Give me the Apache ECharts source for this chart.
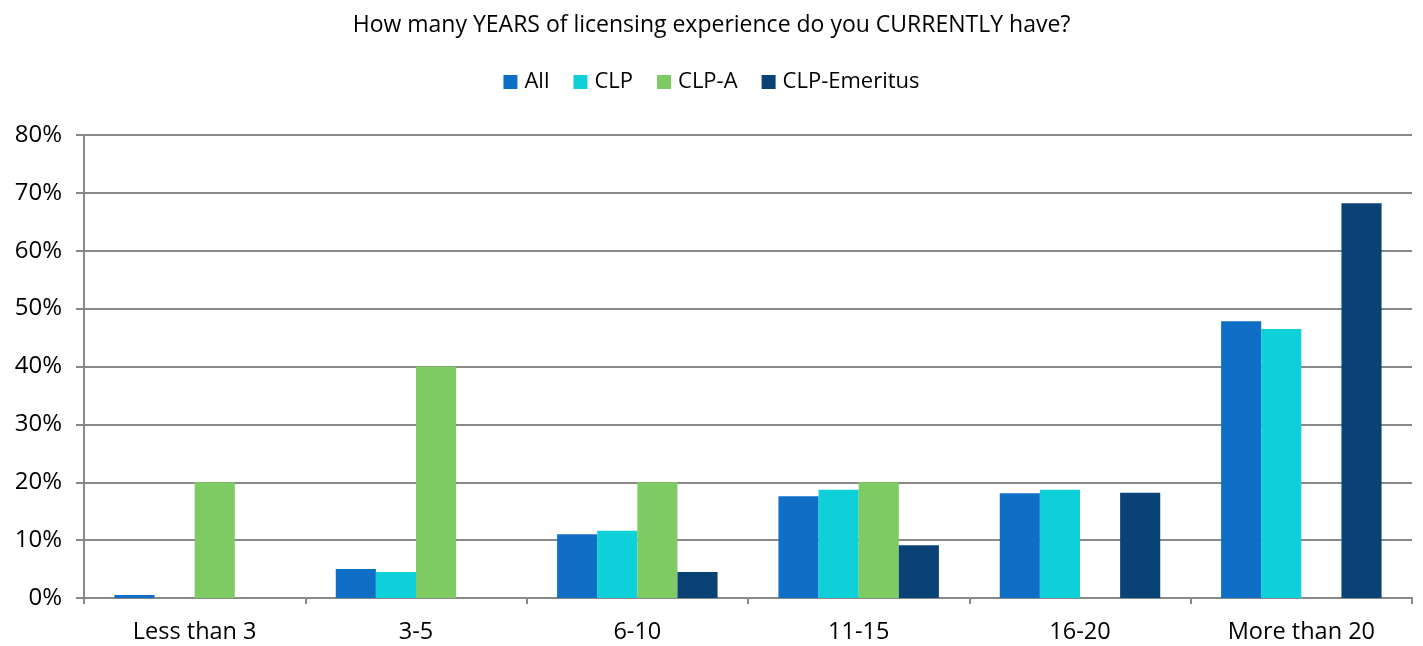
<!DOCTYPE html>
<html>
<head>
<meta charset="utf-8">
<script src="https://cdn.jsdelivr.net/npm/echarts@6/dist/echarts.min.js"></script>
<style>
  html, body { margin: 0; padding: 0; background: #fff; }
  #chart { width: 1423px; height: 646px; }
</style>
</head>
<body>
<div id="chart"></div>
<script>
// Share of respondents by years of licensing experience (%)
const categories = ['Less than 3', '3-5', '6-10', '11-15', '16-20', 'More than 20'];
const seriesNames = ['All', 'CLP', 'CLP-A', 'CLP-Emeritus'];
const allValues = [0.5, 5.0, 11.0, 17.6, 18.1, 47.8];
const clpValues = [0, 4.5, 11.6, 18.7, 18.7, 46.5];
const clpAValues = [20, 40, 20, 20, 0, 0];
const emeritusValues = [0, 0, 4.5, 9.1, 18.2, 68.2];
const yTicks = { min: 0, max: 80, interval: 10 };

const colors = ['#0F6FC6', '#0DD0D8', '#7DCB62', '#0B4276'];
const font = 'Open Sans';
const dataSets = [allValues, clpValues, clpAValues, emeritusValues];

const chart = echarts.init(document.getElementById('chart'));
chart.setOption({
  animation: false,
  color: colors,
  textStyle: { fontFamily: font },
  title: {
    text: 'How many YEARS of licensing experience do you CURRENTLY have?',
    left: 'center',
    top: 9,
    textStyle: { fontFamily: font, fontSize: 23, fontWeight: 'normal', color: '#000' }
  },
  legend: {
    data: seriesNames,
    top: 66,
    left: 'center',
    itemWidth: 14,
    itemHeight: 14,
    itemGap: 24,
    icon: 'rect',
    textStyle: { fontFamily: font, fontSize: 22, color: '#000', padding: [0, 0, 0, 2] }
  },
  grid: { left: 84, right: 11, top: 135, bottom: 48, containLabel: false },
  xAxis: {
    type: 'category',
    data: categories,
    axisLine: { lineStyle: { color: '#898989', width: 2 } },
    axisTick: { show: true, length: 6, lineStyle: { color: '#898989', width: 2 } },
    axisLabel: { fontFamily: font, fontSize: 23.5, color: '#000', margin: 22 }
  },
  yAxis: {
    type: 'value',
    min: yTicks.min,
    max: yTicks.max,
    interval: yTicks.interval,
    axisLine: { show: true, lineStyle: { color: '#898989', width: 2 } },
    axisTick: { show: true, length: 8, inside: false, lineStyle: { color: '#898989', width: 2 } },
    splitLine: { show: true, lineStyle: { color: '#898989', width: 2 } },
    axisLabel: { fontFamily: font, fontSize: 24, color: '#000', margin: 22, formatter: '{value}%' }
  },
  series: seriesNames.map((name, i) => ({
    name,
    type: 'bar',
    data: dataSets[i],
    barGap: '0%',
    barCategoryGap: '27.5%',
    itemStyle: { color: colors[i] }
  }))
});
</script>
</body>
</html>
